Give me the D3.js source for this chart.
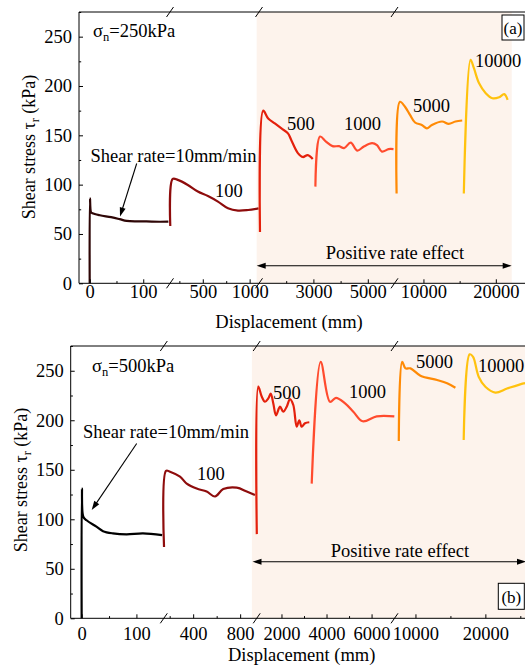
<!DOCTYPE html>
<html>
<head>
<meta charset="utf-8">
<script src="https://cdn.jsdelivr.net/npm/d3@7"></script>
<style>
  body { margin: 0; background: #fff; }
  svg, svg text, svg tspan { font-family: "Liberation Serif"; }
</style>
</head>
<body>
<svg id="chart" width="525" height="666" font-family="Liberation Serif"></svg>
<script>
// ---- Shear stress records, σn = 250 kPa: [displacement (mm), stress (kPa)] ----
const a_rate10 = [[0,0],[0.5,86],[2.5,72],[5,71],[19,69],[40,67],[56,65],[69,63.2],[90,62.8],[106,62.7],[130,62.4],[147,62.5]];
const a_rate100 = [[153,58],[179,105.8],[233,104.8],[340,99.7],[447,93],[555,88.5],[662,82.8],[769,76],[876,73.7],[984,74.3],[1095,76]];
const a_rate500 = [[1036,52],[1156,175],[1338,167],[1582,162],[1825,157],[2065,152],[2189,145],[2429,132],[2611,128],[2793,130],[2975,126]];
const a_rate1000 = [[3073,98],[3244,148.7],[3462,143.6],[3702,139],[3945,139],[4127,137],[4371,142.6],[4611,134.5],[4855,138.6],[5156,142],[5338,140],[5520,133.5],[5764,136],[5945,136]];
const a_rate5000 = [[6290,91],[6750,184],[7450,179],[8145,170.7],[8840,163],[9777,160.5],[10474,157],[11170,160.5],[12566,164],[13487,161.6],[14420,164],[15356,165]];
const a_rate10000 = [[15579,91],[16513,226.5],[16974,218],[17671,203],[18605,192.7],[19540,187.6],[20460,188.6],[21157,191.7],[21632,186]];

// ---- Shear stress records, σn = 500 kPa ----
const b_rate10 = [[0,0],[0.5,131],[3,102.6],[9,99],[27,92.5],[39,88],[57,85.8],[82,84.8],[112,85.8],[147,84]];
const b_rate100 = [[152,72],[169,149],[203,148],[288,143],[345,136],[430,131],[515,128],[586,123],[656,130.5],[771,132],[856,128],[926,124.5]];
const b_rate500 = [[905,85],[971,234],[1122,224],[1268,218.7],[1415,222],[1522,227],[1637,217],[1757,205],[1934,213.7],[2081,208.6],[2232,213.7],[2378,221.4],[2525,215.4],[2676,193.5],[2791,200],[2898,193.5],[3044,197],[3235,198]];
const b_rate1000 = [[3342,136],[3741,259],[4154,218.7],[4421,222.7],[4824,217],[5189,208.6],[5606,199],[6228,204],[7010,204]];
const b_rate5000 = [[7614,179],[8100,259],[8571,252.4],[9286,252.4],[10714,245],[13100,240.6],[14529,237.3],[15714,232.8]];
const b_rate10000 = [[16900,180],[17757,266.6],[18243,264],[19043,244],[20000,233.8],[21429,228],[23100,232],[25471,237.3],[26000,238]];

// ---- Rate labels and tick values ----
const rateLabels = ['10', '100', '500', '1000', '5000', '10000'];
const yMajorTicks = [0, 50, 100, 150, 200, 250];
const yMinorTicks = [25, 75, 125, 175, 225, 275];
const a_xMajorTicks = [[0, 100], [500, 1000], [3000, 5000], [10000, 20000]];
const a_xMinorTicks = [[50], [250, 750], [2000, 4000], [15000]];
const b_xMajorTicks = [[0, 100], [400, 800], [2000, 4000, 6000], [10000, 20000]];
const b_xMinorTicks = [[50], [200, 600], [3000, 5000], [15000, 25000]];

const rateColors = ['#2e0606', '#8e0c0c', '#e4200c', '#ff4b2e', '#ff8a05', '#ffc20e'];

const FONT = 'Liberation Serif';
const FS = 18.5;
const svg = d3.select('#chart');
svg.append('rect').attr('width', 525).attr('height', 666).attr('fill', '#fff');

function label(sel, size) {
  return sel.attr('font-family', FONT).style('font-family', '"Liberation Serif"')
    .attr('font-size', size).style('font-size', size + 'px').attr('fill', '#000');
}

function drawPanel(p) {
  const g = svg.append('g').attr('font-family', FONT);
  const y = d3.scaleLinear().domain([0, 275]).range([p.bottom, p.top]);
  const xs = p.segments.map(s => d3.scaleLinear().domain(s.domain).range(s.range));
  const right = 540;

  // shaded region of the fast-shearing stages
  const sx0 = xs[p.shade[0][0]](p.shade[0][1]);
  const sx1 = Math.min(xs[p.shade[1][0]](p.shade[1][1]), right);
  g.append('rect').attr('x', sx0).attr('y', p.top)
    .attr('width', sx1 - sx0).attr('height', p.bottom - p.top)
    .attr('fill', '#fdf3ec');

  // stress curves
  p.series.forEach(s => {
    const line = d3.line()
      .x(d => xs[s.seg](d[0]))
      .y(d => y(d[1]))
      .curve(d3.curveCatmullRom.alpha(0.5));
    g.append('path').datum(s.data)
      .attr('d', line)
      .attr('fill', 'none')
      .attr('stroke', s.color)
      .attr('stroke-width', 2.2)
      .attr('stroke-linejoin', 'round');
  });

  // y axis
  const yAxis = g.append('g').attr('transform', `translate(${p.left},0)`)
    .call(d3.axisLeft(y).tickValues(yMajorTicks).tickSize(-4).tickPadding(7).tickFormat(d3.format('d')))
    .attr('font-family', FONT).attr('font-size', FS);
  yAxis.select('.domain').remove();
  label(yAxis.selectAll('text'), FS);
  const yMinor = g.append('g').attr('transform', `translate(${p.left},0)`)
    .call(d3.axisLeft(y).tickValues(yMinorTicks).tickSize(-2.2).tickFormat(''));
  yMinor.select('.domain').remove();

  // x axis, one piece per broken segment
  xs.forEach((xsc, i) => {
    const ax = g.append('g').attr('transform', `translate(0,${p.bottom})`)
      .call(d3.axisBottom(xsc).tickValues(p.majorTicks[i]).tickSize(-4).tickPadding(p.xPad).tickFormat(d3.format('d')))
      .attr('font-family', FONT).attr('font-size', FS);
    ax.select('.domain').remove();
    label(ax.selectAll('text'), FS);
    const mi = g.append('g').attr('transform', `translate(0,${p.bottom})`)
      .call(d3.axisBottom(xsc).tickValues(p.minorTicks[i]).tickSize(-2.2).tickFormat(''));
    mi.select('.domain').remove();
  });

  // frame lines
  g.append('line').attr('x1', p.left).attr('x2', p.left).attr('y1', p.top).attr('y2', p.bottom).attr('stroke', '#000');
  g.append('line').attr('x1', p.left).attr('x2', right).attr('y1', p.bottom).attr('y2', p.bottom).attr('stroke', '#000');
  g.append('line').attr('x1', p.left).attr('x2', right).attr('y1', p.top).attr('y2', p.top).attr('stroke', '#000');

  // axis break marks
  p.segments.slice(1).forEach(s => {
    const bx = s.range[0];
    [p.top, p.bottom].forEach(yy => {
      g.append('line').attr('x1', bx - 3.5).attr('y1', yy + 5).attr('x2', bx + 3.5).attr('y2', yy - 5)
        .attr('stroke', '#000').attr('stroke-width', 1);
    });
  });

  // annotations
  const ann = p.ann;
  const sig = label(g.append('text').attr('x', ann.sigma[0]).attr('y', ann.sigma[1]), FS);
  sig.append('tspan').text('σ');
  sig.append('tspan').attr('dy', 4).style('font-size', '12.5px').text('n');
  sig.append('tspan').attr('dy', -4).text(ann.sigmaText);

  label(g.append('text').attr('x', ann.rate[0]).attr('y', ann.rate[1]), FS)
    .text('Shear rate=' + rateLabels[0] + 'mm/min');

  // pointer arrow
  const [ax0, ay0, ax1, ay1] = ann.pointer;
  const ang = Math.atan2(ay1 - ay0, ax1 - ax0);
  g.append('line').attr('x1', ax0).attr('y1', ay0).attr('x2', ax1 - 5 * Math.cos(ang)).attr('y2', ay1 - 5 * Math.sin(ang))
    .attr('stroke', '#000').attr('stroke-width', 1.1);
  const hl = 9, hw = 3;
  const bxh = ax1 - hl * Math.cos(ang), byh = ay1 - hl * Math.sin(ang);
  g.append('path').attr('d', `M${ax1},${ay1}L${bxh + hw * Math.sin(ang)},${byh - hw * Math.cos(ang)}L${bxh - hw * Math.sin(ang)},${byh + hw * Math.cos(ang)}Z`)
    .attr('fill', '#000');

  ann.rateLabels.forEach((pos, i) => {
    label(g.append('text').attr('x', pos[0]).attr('y', pos[1]), FS).text(rateLabels[i + 1]);
  });

  // double-headed arrow with caption
  const [dx0, dx1, dy] = ann.span;
  g.append('line').attr('x1', dx0 + 6).attr('x2', dx1 - 6).attr('y1', dy).attr('y2', dy).attr('stroke', '#000').attr('stroke-width', 1.1);
  g.append('path').attr('d', `M${dx0},${dy}L${dx0 + 9},${dy - 3}L${dx0 + 9},${dy + 3}Z`).attr('fill', '#000');
  g.append('path').attr('d', `M${dx1},${dy}L${dx1 - 9},${dy - 3}L${dx1 - 9},${dy + 3}Z`).attr('fill', '#000');
  label(g.append('text').attr('x', ann.spanText[0]).attr('y', ann.spanText[1]).attr('text-anchor', 'middle'), FS)
    .text('Positive rate effect');

  // panel tag
  const [tx, ty, tw, th] = ann.tag;
  g.append('rect').attr('x', tx).attr('y', ty).attr('width', tw).attr('height', th)
    .attr('fill', '#fff').attr('stroke', '#000').attr('stroke-width', 1);
  label(g.append('text').attr('x', tx + tw / 2).attr('y', ty + th - 6).attr('text-anchor', 'middle'), 17)
    .text(ann.tagText);

  // axis titles
  label(g.append('text').attr('x', ann.xTitle[0]).attr('y', ann.xTitle[1]).attr('text-anchor', 'middle'), FS)
    .text('Displacement (mm)');
  const yt = label(g.append('text').attr('text-anchor', 'middle')
    .attr('transform', `translate(${ann.yTitle[0]},${ann.yTitle[1]}) rotate(-90)`), 18);
  yt.append('tspan').text('Shear stress τ');
  yt.append('tspan').attr('dy', 4).style('font-size', '12px').text('r');
  yt.append('tspan').attr('dy', -4).text(' (kPa)');
}

drawPanel({
  left: 79, top: 12, bottom: 283.3, xPad: 1.5,
  segments: [
    { domain: [-20, 150], range: [79, 170] },
    { domain: [150, 1100], range: [170, 259] },
    { domain: [1000, 6000], range: [259, 395] },
    { domain: [6000, 25000], range: [394.5, 532] }
  ],
  majorTicks: a_xMajorTicks, minorTicks: a_xMinorTicks,
  shade: [[1, 1075], [3, 22200]],
  series: [
    { data: a_rate10, seg: 0, color: rateColors[0] },
    { data: a_rate100, seg: 1, color: rateColors[1] },
    { data: a_rate500, seg: 2, color: rateColors[2] },
    { data: a_rate1000, seg: 2, color: rateColors[3] },
    { data: a_rate5000, seg: 3, color: rateColors[4] },
    { data: a_rate10000, seg: 3, color: rateColors[5] }
  ],
  ann: {
    sigma: [93, 36.7], sigmaText: '=250kPa',
    rate: [90.5, 161.7],
    pointer: [136.7, 163.5, 120, 216.5],
    rateLabels: [[215, 196.7], [287, 130], [344, 130], [413, 111.7], [475, 66.7]],
    span: [256.7, 511.7, 265.7],
    spanText: [395, 259],
    tag: [502, 15, 22, 25], tagText: '(a)',
    xTitle: [289, 328],
    yTitle: [35, 147]
  }
});

drawPanel({
  left: 70.7, top: 346, bottom: 618.3, xPad: 8.2,
  segments: [
    { domain: [-20, 150], range: [70.7, 163.8] },
    { domain: [150, 940], range: [163.8, 256.6] },
    { domain: [900, 7040], range: [256.7, 395] },
    { domain: [7000, 26000], range: [394.5, 527.3] }
  ],
  majorTicks: b_xMajorTicks, minorTicks: b_xMinorTicks,
  shade: [[1, 900], [3, 30000]],
  series: [
    { data: b_rate10, seg: 0, color: '#000' },
    { data: b_rate100, seg: 1, color: rateColors[1] },
    { data: b_rate500, seg: 2, color: rateColors[2] },
    { data: b_rate1000, seg: 2, color: rateColors[3] },
    { data: b_rate5000, seg: 3, color: rateColors[4] },
    { data: b_rate10000, seg: 3, color: rateColors[5] }
  ],
  ann: {
    sigma: [92, 371.7], sigmaText: '=500kPa',
    rate: [83, 438.3],
    pointer: [136.7, 443.5, 91.7, 510],
    rateLabels: [[197, 480], [273, 399], [349, 398.3], [416, 368], [478, 372]],
    span: [252.5, 526, 561.7],
    spanText: [400, 556.7],
    tag: [498.3, 583.3, 26, 26], tagText: '(b)',
    xTitle: [301.7, 661],
    yTitle: [26.5, 480]
  }
});
</script>
</body>
</html>
